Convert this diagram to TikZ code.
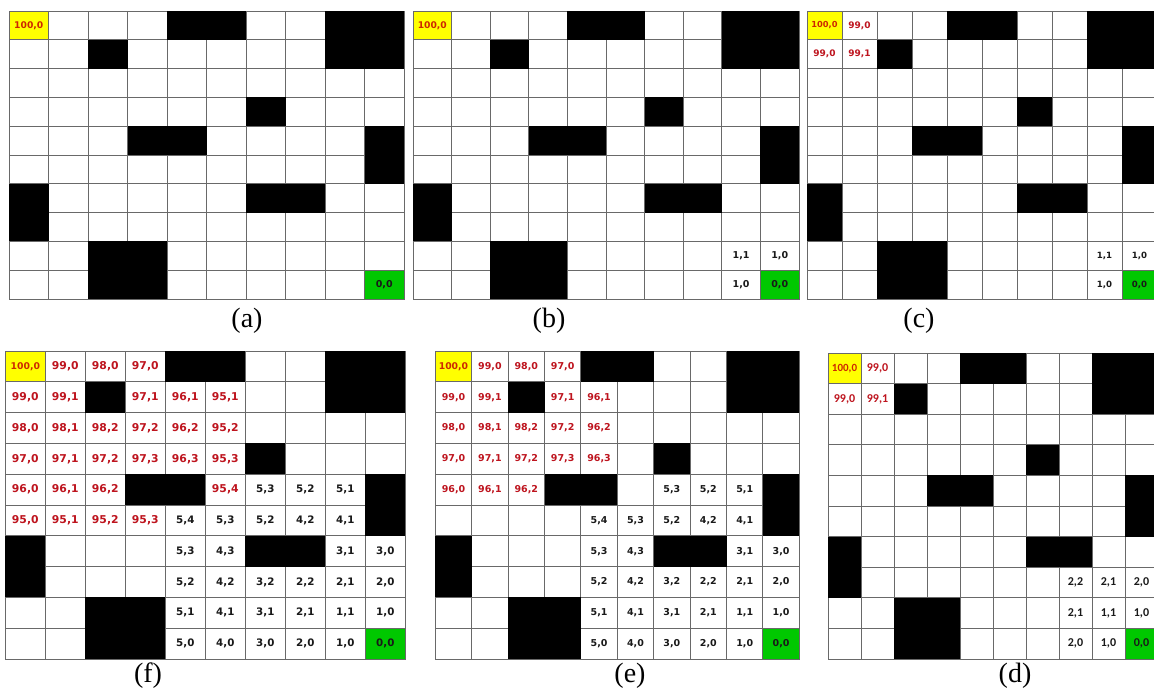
\documentclass[tikz,border=0pt]{standalone}
\usepackage{fontspec}
\setmainfont{Liberation Serif}
\newfontfamily\cellfont{DejaVu Sans}
\newfontfamily\cellfontd{Carlito}
\definecolor{gridline}{RGB}{105,105,105}
\definecolor{valred}{RGB}{190,20,30}
\definecolor{startred}{RGB}{205,40,0}
\definecolor{startyellow}{RGB}{255,255,0}
\definecolor{goalgreen}{RGB}{0,200,0}
\definecolor{valblack}{RGB}{25,25,25}
\tikzset{
  cell/.style={draw=gridline, line width=0.9pt, fill=white, inner sep=0pt, outer sep=0pt},
  vr/.style={text=valred, inner sep=0pt, font={\cellfont\bfseries\fontsize{#1}{#1}\selectfont}},
  vb/.style={text=valblack, inner sep=0pt, font={\cellfont\bfseries\fontsize{#1}{#1}\selectfont}},
  vs/.style={text=startred, inner sep=0pt, font={\cellfont\bfseries\fontsize{#1}{#1}\selectfont}},
  dr/.style={text=valred, inner sep=0pt, font={\cellfontd\bfseries\fontsize{#1}{#1}\selectfont}},
  db/.style={text=valblack, inner sep=0pt, font={\cellfontd\bfseries\fontsize{#1}{#1}\selectfont}},
  ds/.style={text=startred, inner sep=0pt, font={\cellfontd\bfseries\fontsize{#1}{#1}\selectfont}},
  caption/.style={font={\fontsize{28}{28}\selectfont}, inner sep=0pt}
}
% #1 name, #2 x0, #3 y0, #4 cell width, #5 cell height
\newcommand\mazegrid[5]{%
  \foreach \r in {0,...,9}{%
    \foreach \c in {0,...,9}{%
      \node[cell, minimum width=#4, minimum height=#5] (#1-\r-\c) at ({#2+\c*#4+#4/2},{#3+\r*#5+#5/2}) {};
    }%
  }%
  \path[draw=gridline, line width=0.9pt, fill=startyellow] (#1-0-0.north west) rectangle (#1-0-0.south east);
  \path[draw=gridline, line width=0.9pt, fill=goalgreen] (#1-9-9.north west) rectangle (#1-9-9.south east);
  \foreach \ra/\ca/\rb/\cb in {0/4/0/5, 0/8/1/9, 1/2/1/2, 3/6/3/6, 4/3/4/4, 4/9/5/9, 6/6/6/7, 6/0/7/0, 8/2/9/3}{%
    \fill[black] (#1-\ra-\ca.north west) rectangle (#1-\rb-\cb.south east);
  }%
}
% #1 name, #2 style, #3 list r/c/p/q
\newcommand\putvals[3]{%
  \foreach \r/\c/\p/\q in {#3}{%
    \node[#2] (#1-t-\r-\c) at (#1-\r-\c) {\p,\q};
  }%
}
\begin{document}
\begin{tikzpicture}[x=1pt,y=-1pt]
\useasboundingbox (0,0) rectangle (1154,691);
\clip (0,0) rectangle (1154,691);
\fill[white] (0,0) rectangle (1154,691);

% (a)
\mazegrid{a}{9}{11}{39.5}{28.8}
\putvals{a}{vs=9.2}{0/0/100/0}
\putvals{a}{vb=9.5}{9/9/0/0}
\node[caption] (capa) at (247,321) {(a)};

% (b)
\mazegrid{b}{413}{11}{38.6}{28.8}
\putvals{b}{vs=9.2}{0/0/100/0}
\putvals{b}{vb=9.5}{8/8/1/1, 8/9/1/0, 9/8/1/0, 9/9/0/0}
\node[caption] (capb) at (549,321) {(b)};

% (c)
\mazegrid{c}{807}{11}{35}{28.8}
\putvals{c}{vs=8.3}{0/0/100/0}
\putvals{c}{vr=9}{0/1/99/0, 1/0/99/0, 1/1/99/1}
\putvals{c}{vb=8.6}{8/8/1/1, 8/9/1/0, 9/8/1/0, 9/9/0/0}
\node[caption] (capc) at (919,321) {(c)};

% (f)
\mazegrid{f}{5.3}{351}{40}{30.8}
\putvals{f}{vs=9.3}{0/0/100/0}
\putvals{f}{vr=10.8}{0/1/99/0, 0/2/98/0, 0/3/97/0, 1/0/99/0, 1/1/99/1, 1/3/97/1, 1/4/96/1, 1/5/95/1,
  2/0/98/0, 2/1/98/1, 2/2/98/2, 2/3/97/2, 2/4/96/2, 2/5/95/2,
  3/0/97/0, 3/1/97/1, 3/2/97/2, 3/3/97/3, 3/4/96/3, 3/5/95/3,
  4/0/96/0, 4/1/96/1, 4/2/96/2, 4/5/95/4, 5/0/95/0, 5/1/95/1, 5/2/95/2, 5/3/95/3}
\putvals{f}{vb=10.3}{4/6/5/3, 4/7/5/2, 4/8/5/1, 5/4/5/4, 5/5/5/3, 5/6/5/2, 5/7/4/2, 5/8/4/1,
  6/4/5/3, 6/5/4/3, 6/8/3/1, 6/9/3/0, 7/4/5/2, 7/5/4/2, 7/6/3/2, 7/7/2/2, 7/8/2/1, 7/9/2/0,
  8/4/5/1, 8/5/4/1, 8/6/3/1, 8/7/2/1, 8/8/1/1, 8/9/1/0,
  9/4/5/0, 9/5/4/0, 9/6/3/0, 9/7/2/0, 9/8/1/0, 9/9/0/0}
\node[caption] (capf) at (148,676) {(f)};

% (e)
\mazegrid{e}{435.3}{351}{36.4}{30.8}
\putvals{e}{vs=9.3}{0/0/100/0}
\putvals{e}{vr=9.5}{0/1/99/0, 0/2/98/0, 0/3/97/0, 1/0/99/0, 1/1/99/1, 1/3/97/1, 1/4/96/1,
  2/0/98/0, 2/1/98/1, 2/2/98/2, 2/3/97/2, 2/4/96/2,
  3/0/97/0, 3/1/97/1, 3/2/97/2, 3/3/97/3, 3/4/96/3,
  4/0/96/0, 4/1/96/1, 4/2/96/2}
\putvals{e}{vb=9.5}{4/6/5/3, 4/7/5/2, 4/8/5/1, 5/4/5/4, 5/5/5/3, 5/6/5/2, 5/7/4/2, 5/8/4/1,
  6/4/5/3, 6/5/4/3, 6/8/3/1, 6/9/3/0, 7/4/5/2, 7/5/4/2, 7/6/3/2, 7/7/2/2, 7/8/2/1, 7/9/2/0,
  8/4/5/1, 8/5/4/1, 8/6/3/1, 8/7/2/1, 8/8/1/1, 8/9/1/0,
  9/4/5/0, 9/5/4/0, 9/6/3/0, 9/7/2/0, 9/8/1/0, 9/9/0/0}
\node[caption] (cape) at (630,676) {(e)};

% (d)
\mazegrid{d}{828}{353}{33}{30.6}
\putvals{d}{ds=11}{0/0/100/0}
\putvals{d}{dr=12}{0/1/99/0, 1/0/99/0, 1/1/99/1}
\putvals{d}{db=12}{7/7/2/2, 7/8/2/1, 7/9/2/0, 8/7/2/1, 8/8/1/1, 8/9/1/0, 9/7/2/0, 9/8/1/0, 9/9/0/0}
\node[caption] (capd) at (1015,676) {(d)};
\end{tikzpicture}
\end{document}
